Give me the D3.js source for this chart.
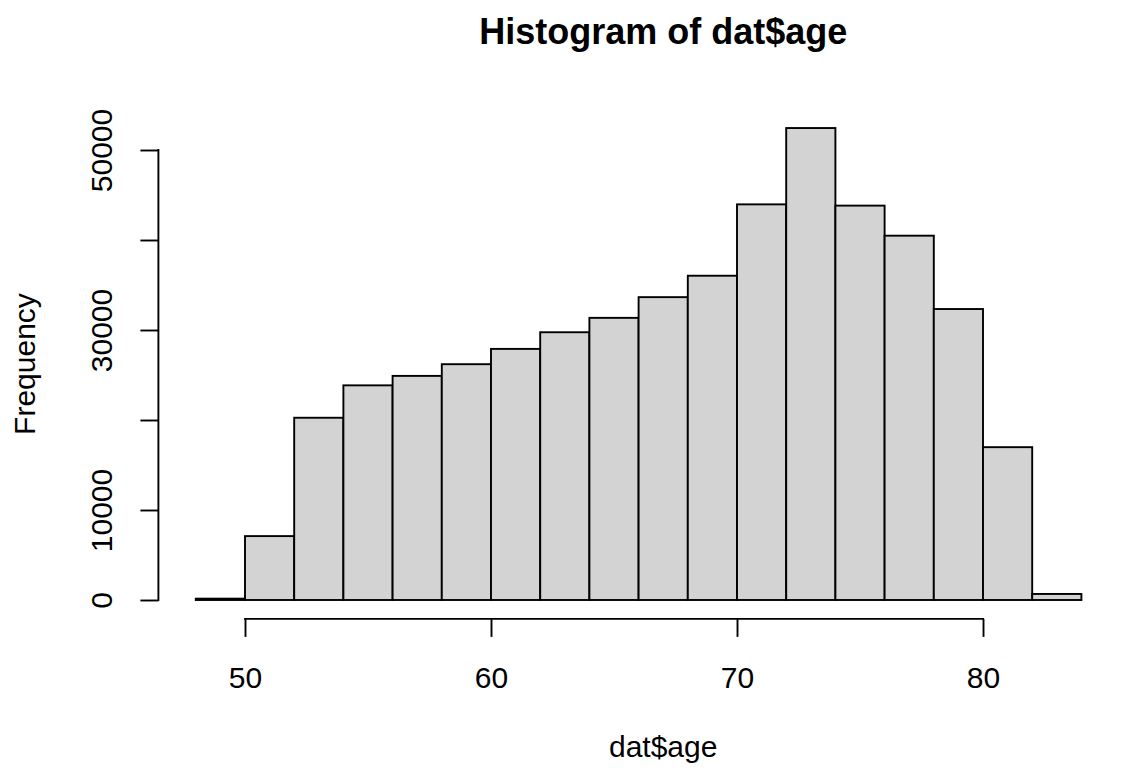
<!DOCTYPE html>
<html>
<head>
<meta charset="utf-8">
<script src="https://cdn.jsdelivr.net/npm/d3@7"></script>
<style>
  html, body { margin: 0; padding: 0; background: #ffffff; }
  svg { display: block; font-family: "Liberation Sans", Arial, Helvetica, sans-serif; }
</style>
</head>
<body>
<svg id="chart" width="1124" height="772"></svg>
<script>
// ---- data ----
const breaks = [48, 50, 52, 54, 56, 58, 60, 62, 64, 66, 68, 70, 72, 74, 76, 78, 80, 82, 84, 86];
const counts = [150, 7100, 20250, 23850, 24900, 26200, 27900, 29750, 31350, 33650, 36030, 43960, 52440, 43820, 40480, 32330, 16980, 670, 0];
const xTicks = [50, 60, 70, 80];
const yTicks = [0, 10000, 20000, 30000, 40000, 50000];
const yLabelValues = [0, 10000, 30000, 50000];
const titleText = "Histogram of dat$age";
const xLabelText = "dat$age";
const yLabelText = "Frequency";

// ---- layout ----
const W = 1124, H = 772;
const lineH = 36;            // one margin line (12pt at 180 dpi)
const plotLeft = 158.4, plotRight = 1168;
const lw = 1.9;

const xMin = breaks[0], xMax = breaks[breaks.length - 1];
const xPad = 0.04 * (xMax - xMin);
const x = d3.scaleLinear().domain([xMin - xPad, xMax + xPad]).range([plotLeft, plotRight]);

const yMaxData = d3.max(counts);
const y = d3.scaleLinear().domain([0, 50000]).range([600, 150]);
const plotBottom = y(-0.04 * yMaxData);
const plotTop = y(1.04 * yMaxData);

const svg = d3.select("#chart");

// bars
const bins = counts.map((c, i) => ({ x0: breaks[i], x1: breaks[i + 1], c }));
svg.append("g").selectAll("rect").data(bins).join("rect")
  .attr("x", d => x(d.x0))
  .attr("y", d => y(d.c))
  .attr("width", d => x(d.x1) - x(d.x0))
  .attr("height", d => y(0) - y(d.c))
  .attr("fill", "#d3d3d3")
  .attr("stroke", "#000")
  .attr("stroke-width", lw);

// x axis
const tickLen = 0.5 * lineH;
const xAxis = d3.axisBottom(x).tickValues(xTicks).tickSize(tickLen).tickSizeOuter(0).tickFormat("");
const gx = svg.append("g").attr("transform", `translate(0,${plotBottom})`).call(xAxis);
gx.select(".domain").remove();
gx.selectAll(".tick line").attr("stroke", "#000").attr("stroke-width", lw);
gx.append("line")
  .attr("x1", x(xTicks[0])).attr("x2", x(xTicks[xTicks.length - 1]))
  .attr("y1", 0).attr("y2", 0)
  .attr("stroke", "#000").attr("stroke-width", lw).attr("stroke-linecap", "square");
gx.selectAll(".tick").append("text")
  .attr("y", 69).attr("x", 0)
  .attr("text-anchor", "middle")
  .attr("fill", "#000")
  .attr("font-size", 30)
  .text(d => d);

// y axis
const yAxis = d3.axisLeft(y).tickValues(yTicks).tickSize(tickLen).tickSizeOuter(0).tickFormat("");
const gy = svg.append("g").attr("transform", `translate(${plotLeft},0)`).call(yAxis);
gy.select(".domain").remove();
gy.selectAll(".tick line").attr("stroke", "#000").attr("stroke-width", lw);
gy.append("line")
  .attr("x1", 0).attr("x2", 0)
  .attr("y1", y(yTicks[0])).attr("y2", y(yTicks[yTicks.length - 1]))
  .attr("stroke", "#000").attr("stroke-width", lw).attr("stroke-linecap", "square");
gy.selectAll(".tick")
  .filter(d => yLabelValues.includes(d))
  .append("text")
  .attr("transform", "translate(-46,0) rotate(-90)")
  .attr("text-anchor", "middle")
  .attr("fill", "#000")
  .attr("font-size", 30)
  .text(d => d);

// titles
const cx = (plotLeft + plotRight) / 2;
svg.append("text")
  .attr("x", cx).attr("y", 44)
  .attr("text-anchor", "middle")
  .attr("font-size", 36).attr("font-weight", "bold")
  .attr("fill", "#000")
  .text(titleText);

svg.append("text")
  .attr("x", cx).attr("y", 757)
  .attr("text-anchor", "middle")
  .attr("font-size", 30)
  .attr("fill", "#000")
  .text(xLabelText);

svg.append("text")
  .attr("transform", `translate(35,${(plotTop + plotBottom) / 2}) rotate(-90)`)
  .attr("text-anchor", "middle")
  .attr("font-size", 30)
  .attr("fill", "#000")
  .text(yLabelText);
</script>
</body>
</html>
